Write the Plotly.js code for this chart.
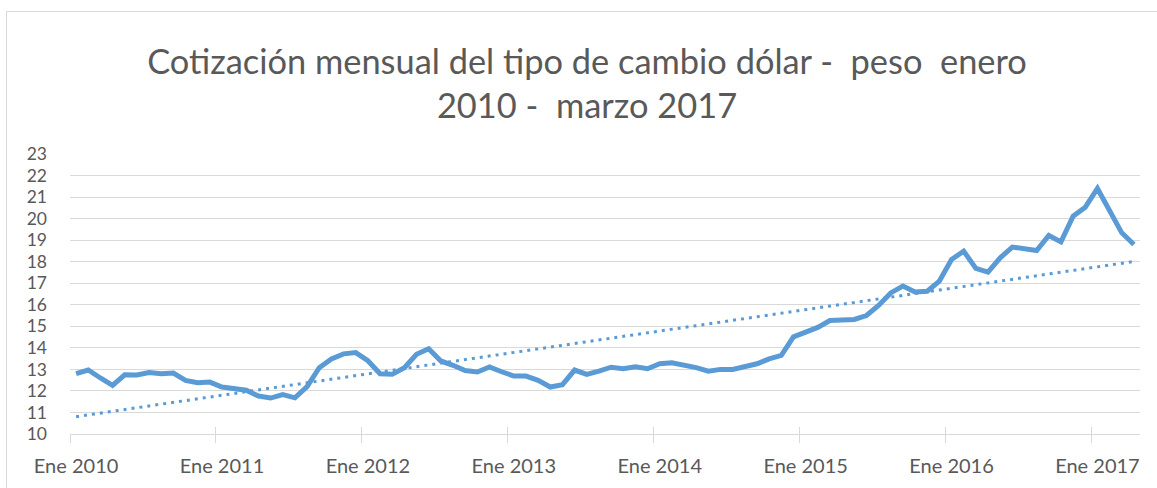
<!DOCTYPE html>
<html>
<head>
<meta charset="utf-8">
<script src="https://cdn.plot.ly/plotly-3.0.1.min.js"></script>
<style>
  html, body { margin: 0; padding: 0; background: #ffffff; overflow: hidden; }
  #frame { position: absolute; left: 6px; top: 11px; width: 1160px; height: 490px; border: 1px solid #d9d9d9; background: #fff; }
  #chart { width: 1160px; height: 490px; }
</style>
</head>
<body>
<div id="frame"><div id="chart"></div></div>
<script>
// --- Data -------------------------------------------------------------
var monthNames = ["Ene","Feb","Mar","Abr","May","Jun","Jul","Ago","Sep","Oct","Nov","Dic"];
var years = [2010, 2011, 2012, 2013, 2014, 2015, 2016, 2017];
var tickLabels = ["Ene 2010","Ene 2011","Ene 2012","Ene 2013","Ene 2014","Ene 2015","Ene 2016","Ene 2017"];

// Monthly dollar-peso exchange rate
var rate2010 = [12.80, 12.97, 12.60, 12.26, 12.75, 12.74, 12.85, 12.80, 12.83, 12.49, 12.38, 12.41];
var rate2011 = [12.18, 12.12, 12.03, 11.76, 11.67, 11.83, 11.68, 12.20, 13.08, 13.48, 13.72, 13.78];
var rate2012 = [13.40, 12.80, 12.77, 13.08, 13.70, 13.96, 13.39, 13.19, 12.95, 12.88, 13.11, 12.89];
var rate2013 = [12.69, 12.69, 12.49, 12.18, 12.29, 12.97, 12.77, 12.92, 13.10, 13.03, 13.12, 13.03];
var rate2014 = [13.26, 13.31, 13.20, 13.08, 12.92, 13.00, 13.00, 13.15, 13.26, 13.49, 13.65, 14.51];
var rate2015 = [14.70, 14.95, 15.27, 15.27, 15.32, 15.50, 15.97, 16.55, 16.87, 16.59, 16.63, 17.10];
var rate2016 = [18.10, 18.49, 17.69, 17.52, 18.18, 18.68, 18.61, 18.52, 19.22, 18.92, 20.11, 20.53];
var rate2017 = [21.40, 20.39, 19.34, 18.80];

var yearly = [rate2010, rate2011, rate2012, rate2013, rate2014, rate2015, rate2016, rate2017];

// --- Build category list and series ---------------------------------------
var categories = [];
var values = [];
var eneIdx = [];
yearly.forEach(function (arr, yi) {
  arr.forEach(function (v, mi) {
    if (mi === 0) eneIdx.push(categories.length);
    categories.push(monthNames[mi] + " " + years[yi]);
    values.push(v);
  });
});
var tickCats = eneIdx.map(function (i) { return categories[i]; });
var boundaryVals = eneIdx.map(function (i) { return i - 0.5; });

// Linear trendline (least squares), as Excel's linear trendline
var n = values.length, sx = 0, sy = 0, sxx = 0, sxy = 0;
for (var i = 0; i < n; i++) { sx += i; sy += values[i]; sxx += i * i; sxy += i * values[i]; }
var slope = (n * sxy - sx * sy) / (n * sxx - sx * sx);
var intercept = (sy - slope * sx) / n;
var trend = values.map(function (_, i) { return intercept + slope * i; });

var blue = "#5b9bd5";
var grey = "#d9d9d9";
var textGrey = "#595959";
var font = "Lato, 'Open Sans', sans-serif";

var traces = [
  { x: categories, y: values, type: "scatter", mode: "lines",
    line: { color: blue, width: 5, shape: "linear" }, hoverinfo: "x+y", showlegend: false },
  { x: categories, y: trend, type: "scatter", mode: "lines",
    line: { color: blue, width: 3, dash: "3px,5px" }, hoverinfo: "skip", showlegend: false },
  // carriers for the tick-mark axes (no visible marks)
  { x: boundaryVals, y: boundaryVals.map(function () { return null; }), xaxis: "x2", yaxis: "y",
    type: "scatter", mode: "lines", hoverinfo: "skip", showlegend: false },
  { x: boundaryVals, y: boundaryVals.map(function () { return null; }), xaxis: "x3", yaxis: "y",
    type: "scatter", mode: "lines", hoverinfo: "skip", showlegend: false }
];

var n2 = categories.length;
var layout = {
  width: 1160, height: 490,
  paper_bgcolor: "#ffffff", plot_bgcolor: "#ffffff",
  margin: { l: 63, r: 27, t: 142, b: 68, pad: 0 },
  showlegend: false,
  title: {
    text: "Cotización mensual del tipo de cambio dólar -\u00a0 peso\u00a0 enero<br>2010 -\u00a0 marzo 2017",
    font: { family: font, size: 34.4, color: textGrey },
    x: 0.5, xref: "container", xanchor: "center",
    y: 0.874, yref: "container", yanchor: "top"
  },
  xaxis: {
    type: "category",
    range: [-0.5, n2 - 0.5],
    tickmode: "array", tickvals: tickCats, ticktext: tickLabels,
    ticks: "", showgrid: false, zeroline: false,
    showline: true, linecolor: grey, linewidth: 1,
    tickfont: { family: font, size: 20, color: textGrey },
    ticklabelstandoff: 14,
    fixedrange: true
  },
  xaxis2: {
    type: "linear", overlaying: "x", anchor: "y", side: "bottom",
    range: [-0.5, n2 - 0.5],
    tickmode: "array", tickvals: boundaryVals,
    ticks: "outside", ticklen: 7.5, tickwidth: 1, tickcolor: grey,
    showticklabels: false, showgrid: false, zeroline: false, showline: false,
    fixedrange: true
  },
  xaxis3: {
    type: "linear", overlaying: "x", anchor: "y", side: "bottom",
    range: [-0.5, n2 - 0.5],
    tickmode: "array", tickvals: boundaryVals,
    ticks: "inside", ticklen: 7.5, tickwidth: 1, tickcolor: grey,
    showticklabels: false, showgrid: false, zeroline: false, showline: false,
    fixedrange: true
  },
  yaxis: {
    range: [10, 23], dtick: 1, tick0: 10,
    showgrid: true, gridcolor: grey, gridwidth: 1,
    zeroline: false, showline: false, ticks: "",
    tickfont: { family: font, size: 17.5, color: textGrey },
    ticklabelstandoff: 22,
    fixedrange: true
  }
};

Plotly.newPlot("chart", traces, layout, { displayModeBar: false, staticPlot: true });
</script>
</body>
</html>
